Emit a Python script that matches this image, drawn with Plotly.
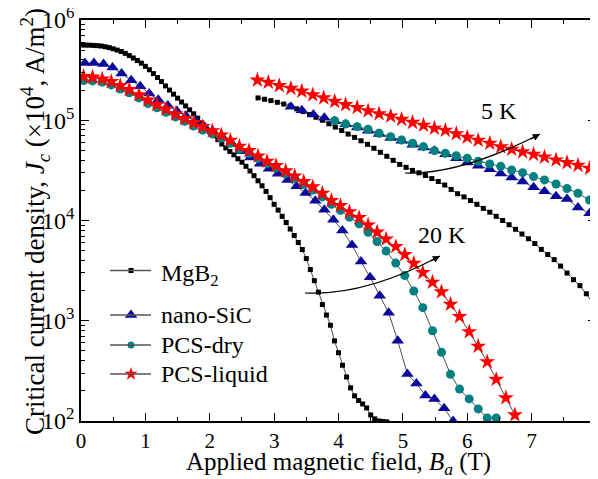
import plotly.graph_objects as go

# ---------------- data (Jc in units of 10^4 A/m^2, B in T) ----------------
# 20 K branch
mgb2_20k_b = [0, 0.0625, 0.125, 0.1875, 0.25, 0.3125, 0.375, 0.4375, 0.5, 0.5625,
              0.625, 0.6875, 0.75, 0.8125, 0.875, 0.9375, 1.0, 1.0625, 1.125, 1.1875,
              1.25, 1.3125, 1.375, 1.4375, 1.5, 1.5625, 1.625, 1.6875, 1.75, 1.8125,
              1.875, 1.9375, 2.0, 2.0625, 2.125, 2.1875, 2.25, 2.3125, 2.375, 2.4375,
              2.5, 2.5625, 2.625, 2.6875, 2.75, 2.8125, 2.875, 2.9375, 3.0, 3.0625,
              3.125, 3.1875, 3.25, 3.3125, 3.375, 3.4375, 3.5, 3.5625, 3.625, 3.6875,
              3.75, 3.8125, 3.875, 3.9375, 4.0, 4.0625, 4.125, 4.1875, 4.25, 4.3125,
              4.375, 4.4375, 4.5, 4.5625, 4.625, 4.6875, 4.75]
mgb2_20k_jc = [5.64e5, 5.62e5, 5.61e5, 5.58e5, 5.55e5, 5.50e5, 5.41e5, 5.30e5, 5.16e5, 5.01e5,
               4.85e5, 4.65e5, 4.42e5, 4.18e5, 3.94e5, 3.71e5, 3.45e5, 3.19e5, 2.92e5, 2.67e5,
               2.43e5, 2.20e5, 2.00e5, 1.82e5, 1.66e5, 1.52e5, 1.39e5, 1.27e5, 1.16e5, 1.05e5,
               9.40e4, 8.43e4, 7.69e4, 7.01e4, 6.40e4, 5.79e4, 5.30e4, 4.88e4, 4.52e4, 4.13e4,
               3.81e4, 3.47e4, 3.12e4, 2.80e4, 2.49e4, 2.22e4, 1.95e4, 1.69e4, 1.45e4, 1.27e4,
               1.10e4, 9.55e3, 8.22e3, 7.08e3, 6.03e3, 5.13e3, 4.17e3, 3.24e3, 2.51e3, 1.93e3,
               1.45e3, 1.14e3, 9.02e2, 6.30e2, 4.80e2, 3.60e2, 2.75e2, 2.14e2, 1.78e2, 1.60e2,
               1.48e2, 1.35e2, 1.15e2, 1.05e2, 1.00e2, 0.99e2, 0.98e2]

sic_20k_b = [0.06, 0.20, 0.35, 0.49, 0.63, 0.78, 0.92, 1.06, 1.20, 1.35, 1.49, 1.63, 1.78, 1.92,
             2.06, 2.20, 2.35, 2.49, 2.63, 2.78, 2.92, 3.06, 3.21, 3.35, 3.49, 3.64, 3.78, 3.92,
             4.06, 4.21, 4.35, 4.49, 4.64, 4.78, 4.92, 5.07, 5.21, 5.35, 5.49, 5.64, 5.78]
sic_20k_jc = [3.72e5, 3.73e5, 3.63e5, 3.35e5, 2.92e5, 2.51e5, 2.18e5, 1.85e5, 1.60e5, 1.40e5,
              1.24e5, 1.11e5, 9.77e4, 8.61e4, 7.59e4, 6.76e4, 5.75e4, 4.90e4, 4.25e4, 3.69e4,
              3.29e4, 2.92e4, 2.54e4, 2.19e4, 1.88e4, 1.57e4, 1.28e4, 1.02e4, 7.94e3, 5.69e3,
              3.89e3, 2.72e3, 1.78e3, 1.20e3, 6.31e2, 2.95e2, 2.37e2, 1.80e2, 1.66e2, 1.34e2, 1.00e2]

dry_20k_b = [0.04, 0.18, 0.33, 0.47, 0.61, 0.75, 0.90, 1.04, 1.18, 1.32, 1.47, 1.61, 1.75, 1.89,
             2.04, 2.18, 2.32, 2.46, 2.61, 2.75, 2.89, 3.03, 3.18, 3.32, 3.46, 3.60, 3.75, 3.89,
             4.03, 4.17, 4.32, 4.46, 4.60, 4.74, 4.89, 5.03, 5.17, 5.31, 5.46, 5.60, 5.74, 5.88,
             6.03, 6.17, 6.31, 6.45]
dry_20k_jc = [2.49e5, 2.47e5, 2.40e5, 2.25e5, 2.05e5, 1.88e5, 1.67e5, 1.47e5, 1.33e5, 1.20e5,
              1.08e5, 9.77e4, 8.75e4, 7.98e4, 7.33e4, 6.65e4, 5.89e4, 5.13e4, 4.68e4, 4.17e4,
              3.70e4, 3.35e4, 2.96e4, 2.63e4, 2.29e4, 2.01e4, 1.72e4, 1.45e4, 1.26e4, 1.08e4,
              9.29e3, 7.62e3, 6.17e3, 4.95e3, 3.76e3, 2.82e3, 1.98e3, 1.35e3, 7.94e2, 4.84e2,
              2.92e2, 2.08e2, 1.66e2, 1.32e2, 1.07e2, 1.07e2]

liq_20k_b = [0.04, 0.18, 0.33, 0.47, 0.61, 0.75, 0.90, 1.04, 1.18, 1.32, 1.47, 1.61, 1.75, 1.89,
             2.04, 2.18, 2.32, 2.46, 2.61, 2.75, 2.89, 3.03, 3.18, 3.32, 3.46, 3.60, 3.75, 3.89,
             4.03, 4.17, 4.32, 4.46, 4.60, 4.74, 4.89, 5.03, 5.17, 5.31, 5.46, 5.60, 5.74, 5.88,
             6.03, 6.17, 6.31, 6.45, 6.60, 6.74]
liq_20k_jc = [2.73e5, 2.69e5, 2.57e5, 2.43e5, 2.21e5, 2.02e5, 1.79e5, 1.59e5, 1.43e5, 1.29e5,
              1.15e5, 1.04e5, 9.46e4, 8.63e4, 7.82e4, 7.13e4, 6.31e4, 5.50e4, 4.97e4, 4.40e4,
              3.89e4, 3.52e4, 3.12e4, 2.78e4, 2.44e4, 2.16e4, 1.87e4, 1.58e4, 1.41e4, 1.22e4,
              1.07e4, 9.02e3, 7.64e3, 6.53e3, 5.50e3, 4.57e3, 3.74e3, 3.02e3, 2.42e3, 1.94e3,
              1.46e3, 1.10e3, 7.76e2, 5.56e2, 3.89e2, 2.60e2, 1.70e2, 1.15e2]

# 5 K branch
mgb2_5k_b = [2.75, 2.85, 2.95, 3.05, 3.15, 3.25, 3.35, 3.45, 3.55, 3.65, 3.75, 3.85, 3.95, 4.05,
             4.15, 4.25, 4.35, 4.45, 4.55, 4.65, 4.75, 4.85, 4.95, 5.05, 5.15, 5.25, 5.35, 5.45,
             5.55, 5.65, 5.75, 5.85, 5.95, 6.05, 6.15, 6.25, 6.35, 6.45, 6.55, 6.65, 6.75, 6.85,
             6.95, 7.05, 7.15, 7.25, 7.35, 7.45, 7.55, 7.65, 7.75, 7.85, 7.95]
mgb2_5k_jc = [1.67e5, 1.62e5, 1.57e5, 1.51e5, 1.45e5, 1.39e5, 1.30e5, 1.22e5, 1.14e5, 1.07e5,
              1.00e5, 9.23e4, 8.55e4, 7.91e4, 7.28e4, 6.75e4, 6.24e4, 5.75e4, 5.25e4, 4.79e4,
              4.37e4, 3.98e4, 3.63e4, 3.39e4, 3.16e4, 2.99e4, 2.81e4, 2.62e4, 2.45e4, 2.26e4,
              2.04e4, 1.85e4, 1.72e4, 1.58e4, 1.45e4, 1.32e4, 1.21e4, 1.10e4, 1.00e4, 9.08e3,
              8.17e3, 7.33e3, 6.58e3, 5.89e3, 5.15e3, 4.57e3, 4.07e3, 3.51e3, 2.99e3, 2.57e3,
              2.24e3, 1.86e3, 1.51e3]

sic_5k_b = [3.26, 3.43, 3.61, 3.78, 3.94, 4.11, 4.29, 4.46, 4.63, 4.81, 4.98, 5.15, 5.32, 5.49,
            5.66, 5.83, 6.00, 6.17, 6.35, 6.52, 6.69, 6.86, 7.03, 7.20, 7.38, 7.55, 7.72, 7.90]
sic_5k_jc = [1.36e5, 1.26e5, 1.14e5, 1.06e5, 9.77e4, 9.12e4, 8.47e4, 7.85e4, 7.28e4, 6.65e4,
             6.24e4, 5.71e4, 5.35e4, 4.95e4, 4.57e4, 4.17e4, 3.78e4, 3.51e4, 3.25e4, 2.95e4,
             2.69e4, 2.45e4, 2.15e4, 1.96e4, 1.75e4, 1.64e4, 1.35e4, 1.18e4]

dry_5k_b = [3.94, 4.11, 4.29, 4.46, 4.63, 4.81, 4.98, 5.15, 5.32, 5.49, 5.66, 5.83, 6.00, 6.17,
            6.35, 6.52, 6.69, 6.86, 7.03, 7.20, 7.38, 7.55, 7.72, 7.90]
dry_5k_jc = [9.91e4, 9.18e4, 8.63e4, 8.13e4, 7.41e4, 6.85e4, 6.35e4, 5.89e4, 5.45e4, 4.97e4,
             4.68e4, 4.42e4, 4.17e4, 3.89e4, 3.67e4, 3.47e4, 3.19e4, 3.00e4, 2.74e4, 2.54e4,
             2.31e4, 2.08e4, 1.87e4, 1.60e4]

liq_5k_b = [2.74, 2.91, 3.08, 3.26, 3.43, 3.60, 3.77, 3.94, 4.11, 4.29, 4.46, 4.63, 4.81, 4.98,
            5.15, 5.32, 5.49, 5.66, 5.83, 6.00, 6.17, 6.35, 6.52, 6.69, 6.86, 7.03, 7.20, 7.38,
            7.55, 7.72, 7.90]
liq_5k_jc = [2.51e5, 2.39e5, 2.21e5, 2.08e5, 1.95e5, 1.79e5, 1.67e5, 1.54e5, 1.43e5, 1.34e5,
             1.24e5, 1.16e5, 1.10e5, 1.02e5, 9.51e4, 8.91e4, 8.32e4, 7.94e4, 7.33e4, 6.76e4,
             6.31e4, 5.89e4, 5.43e4, 5.13e4, 4.84e4, 4.57e4, 4.29e4, 4.01e4, 3.78e4, 3.55e4, 3.31e4]

series_names = ["MgB<sub>2</sub>", "nano-SiC", "PCS-dry", "PCS-liquid"]
y_tick_vals = [1e2, 1e3, 1e4, 1e5, 1e6]
y_tick_text = ["10<sup>2</sup>", "10<sup>3</sup>", "10<sup>4</sup>", "10<sup>5</sup>", "10<sup>6</sup>"]
x_tick_vals = [0, 1, 2, 3, 4, 5, 6, 7, 8]
x_title = "Applied magnetic field, <i>B<sub>a</sub></i> (T)"
y_title = "Critical current density, <i>J<sub>c</sub></i> (\u00d710<sup>4</sup>, A/m<sup>2</sup>)"

# ---------------- figure ----------------
FONT = "Liberation Serif"
fig = go.Figure()

symbols = ["square", "triangle-up", "circle", "star"]
colors = ["#000000", "#0a0a9c", "#008080", "#ff0000"]
plot_sizes = [5, 11, 9, 12]
legend_sizes = [5, 11, 7, 10]

def add_series(i, b20, j20, b5, j5):
    xs = list(b20) + [None] + list(b5)
    ys = list(j20) + [None] + list(j5)
    fig.add_trace(go.Scatter(
        x=xs, y=ys, name=series_names[i], mode="lines+markers", connectgaps=False,
        showlegend=False,
        line=dict(color="#222222", width=0.8),
        marker=dict(symbol=symbols[i], size=plot_sizes[i], color=colors[i], line=dict(width=0)),
    ))

add_series(0, mgb2_20k_b, mgb2_20k_jc, mgb2_5k_b, mgb2_5k_jc)
add_series(1, sic_20k_b, sic_20k_jc, sic_5k_b, sic_5k_jc)
add_series(2, dry_20k_b, dry_20k_jc, dry_5k_b, dry_5k_jc)
add_series(3, liq_20k_b, liq_20k_jc, liq_5k_b, liq_5k_jc)

# The page body has an 8 px margin, so the figure starts at (8, 8) in the window.
# Target plot area in the window: px 81..596 horizontally, 20..421 vertically.
OFF = 8
W, H = 590, 471
L, T = 81 - OFF, 20 - OFF
R = (OFF + W) - 596
B = (OFF + H) - 421
PW, PH = W - L - R, H - T - B

def fx(px):
    return (px - OFF - L) / PW

def fy(py):
    return 1 - (py - OFF - T) / PH

def curve(p0, c, p2):
    return "M {:.4f},{:.4f} Q {:.4f},{:.4f} {:.4f},{:.4f}".format(
        fx(p0[0]), fy(p0[1]), fx(c[0]), fy(c[1]), fx(p2[0]), fy(p2[1]))

# ---- hand-placed legend (key box in the lower left of the plot) ----
legend_rows_py = [270.5, 315, 345, 374]
legend_line_px = (110, 151)
legend_marker_px = 131
legend_text_px = 159

shapes = [
    dict(type="path", xref="paper", yref="paper",
         path=curve((405, 173), (460, 175), (540, 134)),
         line=dict(color="black", width=1.2)),
    dict(type="path", xref="paper", yref="paper",
         path=curve((305, 293), (365, 296), (440, 256)),
         line=dict(color="black", width=1.2)),
]
for py in legend_rows_py:
    shapes.append(dict(type="line", xref="paper", yref="paper",
                       x0=fx(legend_line_px[0]), x1=fx(legend_line_px[1]),
                       y0=fy(py), y1=fy(py), line=dict(color="#555555", width=1.3)))

# legend markers on a hidden overlay axis spanning the plot area in [0, 1]
for i, py in enumerate(legend_rows_py):
    fig.add_trace(go.Scatter(
        x=[fx(legend_marker_px)], y=[fy(py)], xaxis="x2", yaxis="y2",
        mode="markers", showlegend=False, hoverinfo="skip",
        marker=dict(symbol=symbols[i], size=legend_sizes[i], color=colors[i], line=dict(width=0)),
    ))

annotations = [
    dict(x=fx(540), y=fy(134), xref="paper", yref="paper", text="", showarrow=True,
         ax=-11, ay=6, arrowhead=2, arrowsize=1.2, arrowwidth=1.2, arrowcolor="black"),
    dict(x=fx(440), y=fy(256), xref="paper", yref="paper", text="", showarrow=True,
         ax=-11, ay=6, arrowhead=2, arrowsize=1.2, arrowwidth=1.2, arrowcolor="black"),
    dict(x=fx(499), y=fy(111), xref="paper", yref="paper", text="5 K", showarrow=False,
         xanchor="center", yanchor="middle",
         font=dict(family=FONT, size=24, color="black")),
    dict(x=fx(442), y=fy(235), xref="paper", yref="paper", text="20 K", showarrow=False,
         xanchor="center", yanchor="middle",
         font=dict(family=FONT, size=24, color="black")),
    # y-axis title, rotated
    dict(x=fx(35), y=fy(222), xref="paper", yref="paper", text=y_title, showarrow=False,
         textangle=-90, xanchor="center", yanchor="middle",
         font=dict(family=FONT, size=27, color="black")),
]
legend_text_dy = [4, 0, 0, 0]
for i, py in enumerate(legend_rows_py):
    annotations.append(dict(
        x=fx(legend_text_px), y=fy(py + legend_text_dy[i]), xref="paper", yref="paper",
        text=series_names[i], showarrow=False, xanchor="left", yanchor="middle",
        font=dict(family=FONT, size=24, color="black")))

axis_common = dict(
    showline=True, linecolor="black", linewidth=1.8, mirror="ticks",
    ticks="inside", ticklen=8, tickwidth=1.3, tickcolor="black",
    showgrid=False, zeroline=False, ticklabeloverflow="allow",
)

fig.update_layout(
    width=W, height=H,
    margin=dict(l=L, r=R, t=T, b=B, autoexpand=False),
    paper_bgcolor="white", plot_bgcolor="white",
    font=dict(family=FONT, size=22, color="black"),
    showlegend=False,
    shapes=shapes,
    annotations=annotations,
    xaxis=dict(range=[0, 8], tickmode="array", tickvals=x_tick_vals,
               tickfont=dict(family=FONT, size=21, color="black"),
               minor=dict(ticks="inside", ticklen=4, tickwidth=1.2, tickcolor="black",
                          dtick=0.5, tick0=0, showgrid=False),
               title=dict(text=x_title, font=dict(family=FONT, size=25), standoff=4),
               **axis_common),
    yaxis=dict(type="log", range=[2, 6], tickmode="array", tickvals=y_tick_vals,
               ticktext=y_tick_text,
               tickfont=dict(family=FONT, size=24, color="black"),
               minor=dict(ticks="inside", ticklen=4, tickwidth=1.2, tickcolor="black",
                          tickvals=[m * 10 ** e for e in range(2, 6) for m in range(2, 10)],
                          showgrid=False),
               **axis_common),
    xaxis2=dict(range=[0, 1], overlaying="x", anchor="y2", visible=False, fixedrange=True),
    yaxis2=dict(range=[0, 1], overlaying="y", anchor="x2", visible=False, fixedrange=True),
)

fig.write_html("out.html")
